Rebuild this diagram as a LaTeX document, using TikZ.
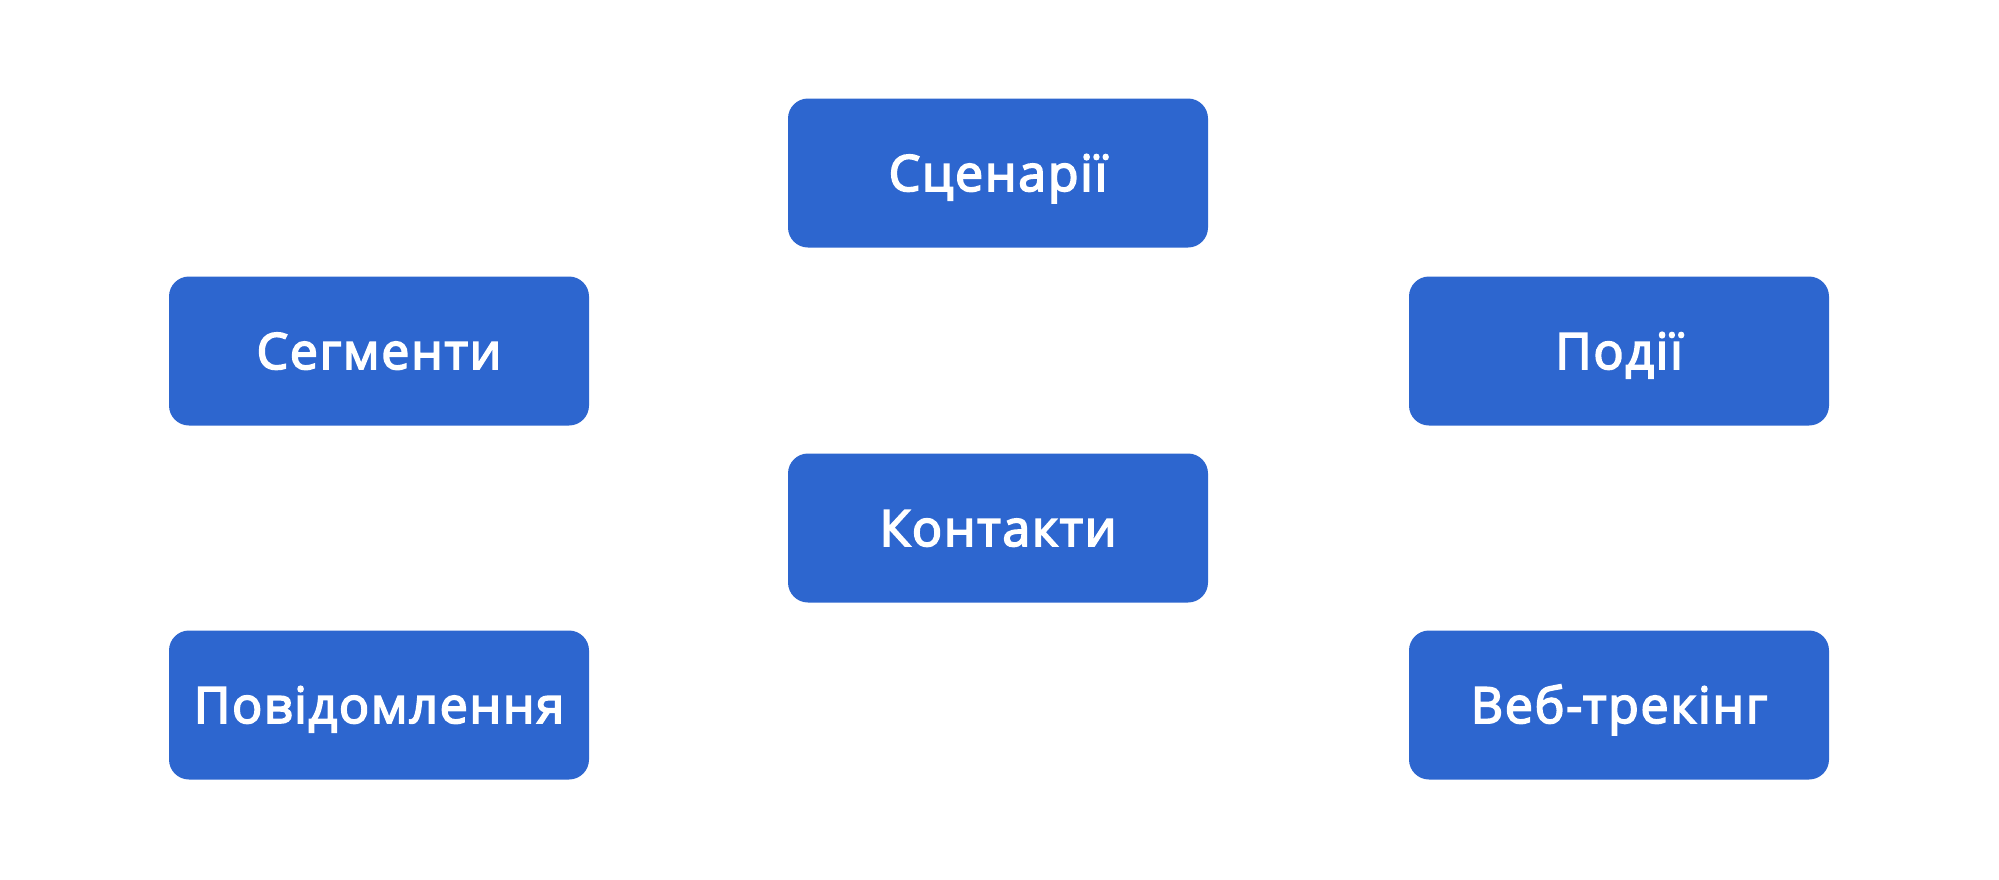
\documentclass[tikz,border=0pt]{standalone}
\usepackage{fontspec}
\setmainfont{Open Sans}
\newfontfamily\boxfont{Open Sans}[FakeBold=3.5, LetterSpace=3.5]
\usepackage{tikz}

\definecolor{boxblue}{RGB}{45,102,207}

\tikzset{
  block/.style={fill=boxblue, rounded corners=20pt, minimum width=420pt, minimum height=149pt,
    inner sep=0pt, text height=36pt, text depth=0pt, text=white,
    font=\fontsize{50}{60}\boxfont}
}

\begin{document}
\begin{tikzpicture}[x=1pt,y=1pt,yscale=-1,xscale=1]
\useasboundingbox (0,0) rectangle (1999,879);

% Top row
\node [block] (scen) at (998,173) {Сценарії};
% Middle rows
\node [block] (segm) at (379,351) {Сегменти};
\node [block] (podii) at (1619,351) {Події};
\node [block] (kont) at (998,528) {Контакти};
% Bottom row
\node [block] (povid) at (379,705) {Повідомлення};
\node [block] (veb) at (1619,705) {Веб-трекінг};

\end{tikzpicture}
\end{document}
